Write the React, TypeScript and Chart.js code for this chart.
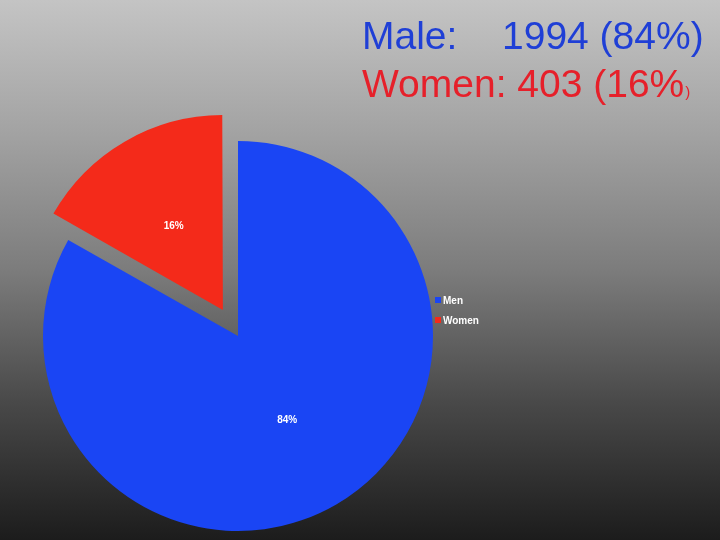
import React, { useEffect, useRef } from "react";
import { Chart, registerables } from "chart.js";

Chart.register(...registerables);

const categories = ["Men", "Women"];
const counts = [1994, 403];
const percentLabels = ["84%", "16%"];
const sliceColors = ["#1a45f4", "#f42a1a"];
const sliceOffsets = [0, 120];
const headingLeft = ["Male:", "Women: 403 (16%"];
const headingRight = ["1994 (84%)", ")"];
const headingColors = ["#1f3fd6", "#e6202a"];

const FONT = '"Liberation Sans", Arial, Helvetica, sans-serif';

// keep exploded slices at the same radius as the others
const radiusFixPlugin = {
  id: "radiusFix",
  afterUpdate(chart: any) {
    const meta = chart.getDatasetMeta(0);
    meta.data.forEach((arc: any) => {
      const off = (arc.options.offset || 0) / 4;
      const circ = arc.endAngle - arc.startAngle;
      const fix = 1 - Math.sin(Math.min(Math.PI, circ || 0));
      arc.outerRadius -= off * fix;
    });
  },
};

const decorPlugin = {
  id: "decor",
  afterDatasetsDraw(chart: any) {
    const ctx = chart.ctx;
    const meta = chart.getDatasetMeta(0);
    ctx.save();
    // percentage labels
    ctx.fillStyle = "#ffffff";
    ctx.font = `bold 10px ${FONT}`;
    ctx.textAlign = "center";
    ctx.textBaseline = "middle";
    meta.data.forEach((arc: any, i: number) => {
      const mid = (arc.startAngle + arc.endAngle) / 2;
      const off = (arc.options.offset || 0) / 4;
      const d = off + 97.5;
      ctx.fillText(percentLabels[i], arc.x + Math.cos(mid) * d, arc.y + Math.sin(mid) * d);
    });
    // legend
    ctx.textAlign = "left";
    ctx.font = `bold 10px ${FONT}`;
    categories.forEach((c, i) => {
      const y = 300 + i * 20;
      ctx.fillStyle = sliceColors[i];
      ctx.fillRect(435, y - 3, 6, 6);
      ctx.fillStyle = "#ffffff";
      ctx.fillText(c, 443, y + 1);
    });
    // heading
    ctx.textBaseline = "alphabetic";
    ctx.font = `39px ${FONT}`;
    ctx.fillStyle = headingColors[0];
    ctx.fillText(headingLeft[0], 362, 49);
    ctx.fillText(headingRight[0], 502, 49);
    ctx.fillStyle = headingColors[1];
    ctx.fillText(headingLeft[1], 362, 97);
    const w = ctx.measureText(headingLeft[1]).width;
    ctx.font = `15px ${FONT}`;
    ctx.fillText(headingRight[1], 362 + w + 1, 97);
    ctx.restore();
  },
};

export default function App() {
  const ref = useRef<HTMLCanvasElement>(null);
  useEffect(() => {
    if (!ref.current) return;
    const chart = new Chart(ref.current, {
      type: "pie",
      data: {
        labels: categories,
        datasets: [
          {
            data: counts,
            backgroundColor: sliceColors,
            borderWidth: 0,
            offset: sliceOffsets,
          },
        ],
      },
      options: {
        responsive: false,
        animation: false,
        radius: 195,
        layout: { padding: { left: 20, right: 264, top: 132, bottom: 0 } },
        plugins: {
          legend: { display: false },
          title: { display: false },
          tooltip: { enabled: false },
        },
      } as any,
      plugins: [radiusFixPlugin, decorPlugin],
    });
    return () => chart.destroy();
  }, []);
  return (
    <div
      style={{
        position: "fixed",
        left: 0,
        top: 0,
        width: 720,
        height: 540,
        background: "linear-gradient(to bottom, #c4c4c4 0%, #a2a2a2 25%, #7c7c7c 50%, #484848 75%, #1c1c1c 100%)",
      }}
    >
      <canvas ref={ref} width={720} height={540} style={{ display: "block" }} />
    </div>
  );
}
